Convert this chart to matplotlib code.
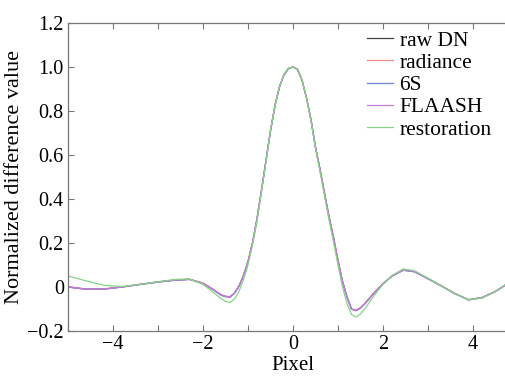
import numpy as np
import matplotlib.pyplot as plt
from matplotlib.ticker import MultipleLocator

# sample positions (pixel offset)
pixel = [-5.0, -4.6, -4.2, -3.8, -3.4, -3.0, -2.6, -2.3, -2.0, -1.8,
         -1.6, -1.5, -1.4, -1.3, -1.2, -1.1, -1.0, -0.9, -0.8, -0.7,
         -0.6, -0.5, -0.4, -0.3, -0.2, -0.1, 0.0, 0.1, 0.2, 0.3,
         0.4, 0.5, 0.6, 0.7, 0.8, 0.9, 1.0, 1.1, 1.2, 1.3,
         1.4, 1.5, 1.6, 1.8, 2.0, 2.2, 2.45, 2.7, 3.0, 3.3,
         3.6, 3.9, 4.2, 4.5, 4.8, 5.0]

raw_dn = [0.000, -0.010, -0.009, 0.000, 0.012, 0.023, 0.032, 0.035, 0.017, -0.008,
          -0.036, -0.043, -0.045, -0.028, 0.004, 0.052, 0.115, 0.200, 0.310, 0.440,
          0.575, 0.710, 0.825, 0.910, 0.965, 0.993, 1.000, 0.990, 0.940, 0.860,
          0.760, 0.635, 0.535, 0.426, 0.320, 0.225, 0.120, 0.025, -0.045, -0.100,
          -0.107, -0.095, -0.075, -0.027, 0.015, 0.050, 0.077, 0.070, 0.038, 0.005,
          -0.030, -0.058, -0.048, -0.020, 0.020, 0.050]

radiance = [0.001, -0.009, -0.009, 0.001, 0.012, 0.023, 0.032, 0.035, 0.018, -0.007,
            -0.035, -0.042, -0.044, -0.027, 0.005, 0.053, 0.116, 0.201, 0.311, 0.441,
            0.576, 0.711, 0.826, 0.911, 0.966, 0.993, 1.000, 0.990, 0.941, 0.861,
            0.761, 0.636, 0.536, 0.427, 0.321, 0.226, 0.121, 0.026, -0.044, -0.099,
            -0.106, -0.094, -0.074, -0.026, 0.016, 0.051, 0.078, 0.071, 0.038, 0.005,
            -0.030, -0.057, -0.048, -0.020, 0.020, 0.050]

six_s = [0.000, -0.010, -0.010, 0.000, 0.011, 0.022, 0.031, 0.034, 0.016, -0.009,
         -0.037, -0.044, -0.046, -0.029, 0.003, 0.051, 0.114, 0.199, 0.309, 0.439,
         0.574, 0.709, 0.824, 0.909, 0.964, 0.992, 1.000, 0.989, 0.939, 0.859,
         0.759, 0.634, 0.534, 0.425, 0.319, 0.224, 0.119, 0.024, -0.046, -0.101,
         -0.108, -0.096, -0.076, -0.028, 0.014, 0.049, 0.076, 0.069, 0.037, 0.004,
         -0.031, -0.059, -0.049, -0.021, 0.019, 0.049]

flaash = [0.001, -0.010, -0.009, 0.000, 0.012, 0.023, 0.032, 0.035, 0.017, -0.008,
          -0.036, -0.043, -0.045, -0.028, 0.004, 0.052, 0.115, 0.200, 0.310, 0.440,
          0.575, 0.710, 0.825, 0.910, 0.965, 0.993, 1.000, 0.990, 0.940, 0.860,
          0.760, 0.635, 0.535, 0.426, 0.320, 0.225, 0.120, 0.025, -0.045, -0.100,
          -0.107, -0.095, -0.075, -0.027, 0.015, 0.050, 0.077, 0.070, 0.038, 0.005,
          -0.030, -0.058, -0.048, -0.020, 0.020, 0.050]

restoration = [0.050, 0.028, 0.008, 0.002, 0.012, 0.024, 0.035, 0.036, 0.012, -0.020,
               -0.052, -0.066, -0.070, -0.055, -0.020, 0.033, 0.100, 0.190, 0.300, 0.435,
               0.570, 0.710, 0.825, 0.910, 0.967, 0.994, 1.000, 0.990, 0.940, 0.860,
               0.755, 0.630, 0.525, 0.415, 0.305, 0.205, 0.100, 0.000, -0.075, -0.125,
               -0.137, -0.122, -0.098, -0.040, 0.012, 0.052, 0.082, 0.074, 0.040, 0.005,
               -0.030, -0.058, -0.050, -0.020, 0.022, 0.050]

series = [("raw DN", raw_dn, "#444444"),
          ("radiance", radiance, "#f08a8a"),
          ("6S", six_s, "#6f86d6"),
          ("FLAASH", flaash, "#c47ad6"),
          ("restoration", restoration, "#86d486")]

plt.rcParams["font.family"] = ["Liberation Serif", "DejaVu Serif"]
fs = 14.5

fig = plt.figure(figsize=(5.06, 3.81), dpi=100)
# axes run past the right edge of the figure, as in the cropped original
ax = fig.add_axes([68/506, 50/381, 450/506, 308/381])

for name, vals, col in series:
    ax.plot(pixel, vals, color=col, lw=0.9, label=name)

ax.set_xlim(-5, 5)
ax.set_ylim(-0.2, 1.2)
ax.xaxis.set_minor_locator(MultipleLocator(1))
ax.set_yticks(np.arange(-0.2, 1.21, 0.2))
ax.set_yticklabels(["\u22120.2", "0", "0.2", "0.4", "0.6", "0.8", "1.0", "1.2"])
ax.set_xticks([-4, -2, 0, 2, 4])
ax.set_xticklabels(["\u22124", "\u22122", "0", "2", "4"])

ax.tick_params(which="both", direction="in", top=True, right=False,
               color="#777777", width=0.8, length=4, labelsize=fs, pad=3)
for side in ["left", "bottom", "top"]:
    ax.spines[side].set_color("#777777")
    ax.spines[side].set_linewidth(0.9)
ax.spines["right"].set_visible(False)

ax.set_xlabel("Pixel", fontsize=15, labelpad=1)
ax.set_ylabel("Normalized difference value", fontsize=16, labelpad=2)

ax.legend(loc="upper left", bbox_to_anchor=(0.665, 0.975), frameon=False,
          fontsize=15.5, handlelength=1.2, handletextpad=0.3,
          labelspacing=0.1, borderpad=0, borderaxespad=0)

fig.savefig("out.png", dpi=100)
